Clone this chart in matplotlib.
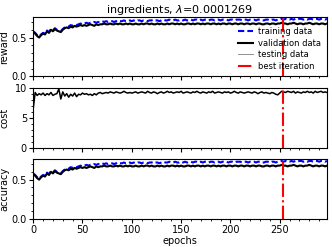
import matplotlib
matplotlib.use("Agg")
import matplotlib.pyplot as plt
from matplotlib.ticker import AutoMinorLocator

plt.rcParams['font.size'] = 7

epochs = list(range(0, 300, 2))

train_reward = [0.58, 0.56, 0.53, 0.51, 0.54, 0.56, 0.55, 0.59, 0.57, 0.61,
                0.59, 0.62, 0.60, 0.59, 0.58, 0.61, 0.63, 0.64, 0.64, 0.66,
                0.65, 0.67, 0.66, 0.67, 0.68, 0.67, 0.68, 0.69, 0.68, 0.69,
                0.69, 0.70, 0.69, 0.70, 0.70, 0.71, 0.70, 0.71, 0.70, 0.71,
                0.71, 0.70, 0.71, 0.72, 0.71, 0.71, 0.72, 0.71, 0.71, 0.72,
                0.71, 0.72, 0.71, 0.72, 0.72, 0.71, 0.72, 0.72, 0.71, 0.72,
                0.72, 0.73, 0.72, 0.72, 0.71, 0.72, 0.73, 0.72, 0.72, 0.73,
                0.72, 0.72, 0.73, 0.72, 0.72, 0.73, 0.72, 0.73, 0.72, 0.72,
                0.73, 0.72, 0.73, 0.73, 0.72, 0.73, 0.72, 0.73, 0.73, 0.72,
                0.73, 0.73, 0.72, 0.73, 0.73, 0.72, 0.73, 0.73, 0.73, 0.72,
                0.73, 0.73, 0.72, 0.73, 0.73, 0.73, 0.72, 0.73, 0.73, 0.72,
                0.73, 0.73, 0.73, 0.72, 0.73, 0.73, 0.72, 0.72, 0.73, 0.73,
                0.72, 0.73, 0.73, 0.72, 0.73, 0.73, 0.74, 0.73, 0.74, 0.73,
                0.73, 0.74, 0.73, 0.74, 0.73, 0.74, 0.74, 0.73, 0.74, 0.73,
                0.74, 0.74, 0.73, 0.74, 0.74, 0.73, 0.74, 0.74, 0.73, 0.74]

valid_reward = [0.57, 0.55, 0.52, 0.50, 0.53, 0.55, 0.54, 0.58, 0.56, 0.60,
                0.58, 0.61, 0.59, 0.58, 0.57, 0.60, 0.62, 0.63, 0.62, 0.64,
                0.63, 0.65, 0.64, 0.65, 0.66, 0.65, 0.66, 0.65, 0.66, 0.67,
                0.66, 0.65, 0.67, 0.66, 0.67, 0.67, 0.68, 0.67, 0.67, 0.68,
                0.67, 0.67, 0.68, 0.67, 0.68, 0.67, 0.67, 0.68, 0.67, 0.68,
                0.67, 0.67, 0.68, 0.67, 0.67, 0.68, 0.67, 0.68, 0.68, 0.67,
                0.68, 0.67, 0.67, 0.68, 0.67, 0.68, 0.67, 0.67, 0.68, 0.67,
                0.68, 0.68, 0.67, 0.68, 0.67, 0.68, 0.67, 0.67, 0.68, 0.68,
                0.67, 0.68, 0.67, 0.68, 0.68, 0.67, 0.68, 0.67, 0.68, 0.68,
                0.67, 0.68, 0.68, 0.67, 0.68, 0.67, 0.68, 0.68, 0.67, 0.68,
                0.68, 0.67, 0.68, 0.68, 0.67, 0.68, 0.68, 0.67, 0.68, 0.68,
                0.67, 0.68, 0.68, 0.67, 0.68, 0.68, 0.67, 0.67, 0.68, 0.68,
                0.67, 0.68, 0.68, 0.67, 0.68, 0.68, 0.69, 0.68, 0.68, 0.67,
                0.68, 0.68, 0.69, 0.68, 0.67, 0.68, 0.68, 0.67, 0.68, 0.68,
                0.69, 0.68, 0.67, 0.68, 0.68, 0.67, 0.68, 0.68, 0.67, 0.68]

valid_cost = [6.5, 9.3, 8.8, 9.1, 8.9, 9.2, 8.8, 9.1, 8.9, 9.3,
              8.8, 9.0, 9.1, 9.9, 8.2, 9.4, 8.7, 9.1, 8.5, 9.0,
              8.7, 9.2, 8.6, 9.0, 8.9, 9.2, 9.0, 9.1, 8.9, 9.0,
              8.8, 9.1, 8.9, 9.2, 9.3, 9.1, 9.2, 9.3, 9.2, 9.4,
              9.3, 9.2, 9.4, 9.3, 9.2, 9.3, 9.5, 9.3, 9.2, 9.3,
              9.2, 9.3, 9.4, 9.2, 9.3, 9.4, 9.3, 9.2, 9.5, 9.3,
              9.2, 9.4, 9.3, 9.1, 9.3, 9.4, 9.2, 9.3, 9.5, 9.3,
              9.4, 9.2, 9.3, 9.4, 9.3, 9.5, 9.2, 9.3, 9.4, 9.3,
              9.2, 9.4, 9.3, 9.5, 9.3, 9.2, 9.4, 9.3, 9.2, 9.4,
              9.3, 9.5, 9.2, 9.3, 9.4, 9.3, 9.2, 9.4, 9.3, 9.4,
              9.2, 9.3, 9.5, 9.3, 9.2, 9.4, 9.3, 9.2, 9.3, 9.4,
              9.3, 9.2, 9.4, 9.3, 9.1, 9.3, 9.4, 9.2, 9.3, 9.2,
              9.1, 9.3, 9.2, 9.0, 8.9, 9.2, 9.5, 9.4, 9.3, 9.5,
              9.4, 9.3, 9.5, 9.2, 9.4, 9.3, 9.2, 9.4, 9.3, 9.5,
              9.3, 9.4, 9.2, 9.5, 9.3, 9.4, 9.5, 9.3, 9.4, 9.3]

best_iteration = 253
lam = "0.0001269"

fig, axes = plt.subplots(3, 1, figsize=(3.32, 2.47), dpi=100, sharex=True)
fig.subplots_adjust(left=0.10, right=0.985, top=0.93, bottom=0.115, hspace=0.2)

ax = axes[0]
ax.plot(epochs, train_reward, color="blue", ls="--", lw=1.5, dashes=(3, 1.5),
        label="training data")
ax.plot(epochs, valid_reward, color="black", lw=1.5, label="validation data")
ax.plot(epochs, valid_reward, color="gray", lw=0.6, zorder=1, label="testing data")
ax.axvline(best_iteration, color="red", ls="-.", lw=1.5, label="best iteration")
ax.set_ylim(0, 0.76)
ax.set_yticks([0.0, 0.5])
ax.set_ylabel("reward")
ax.set_title("ingredients, $\\lambda$=" + lam, fontsize=8, pad=3)
ax.legend(loc="lower right", frameon=False, fontsize=6, handlelength=1.8,
          labelspacing=0.3, borderaxespad=0.3, handletextpad=0.6)

ax = axes[1]
ax.plot(epochs, valid_cost, color="black", lw=1.1)
ax.axvline(best_iteration, color="red", ls="-.", lw=1.5)
ax.set_ylim(0, 10)
ax.set_yticks([0, 5, 10])
ax.set_ylabel("cost")

ax = axes[2]
ax.plot(epochs, train_reward, color="blue", ls="--", lw=1.5, dashes=(3, 1.5))
ax.plot(epochs, valid_reward, color="black", lw=1.5)
ax.plot(epochs, valid_reward, color="gray", lw=0.6, zorder=1)
ax.axvline(best_iteration, color="red", ls="-.", lw=1.5)
ax.set_ylim(0, 0.76)
ax.set_yticks([0.0, 0.5])
ax.set_ylabel("accuracy")
ax.set_xlabel("epochs", labelpad=1)

for ax in axes:
    ax.set_xlim(0, 298)
    ax.xaxis.set_minor_locator(AutoMinorLocator())
    ax.yaxis.set_minor_locator(AutoMinorLocator())
    ax.tick_params(which="major", length=3, pad=1.5)
    ax.tick_params(which="minor", length=1.5)
    ax.yaxis.set_label_coords(-0.082, 0.5)

fig.savefig("out.png", dpi=100)
